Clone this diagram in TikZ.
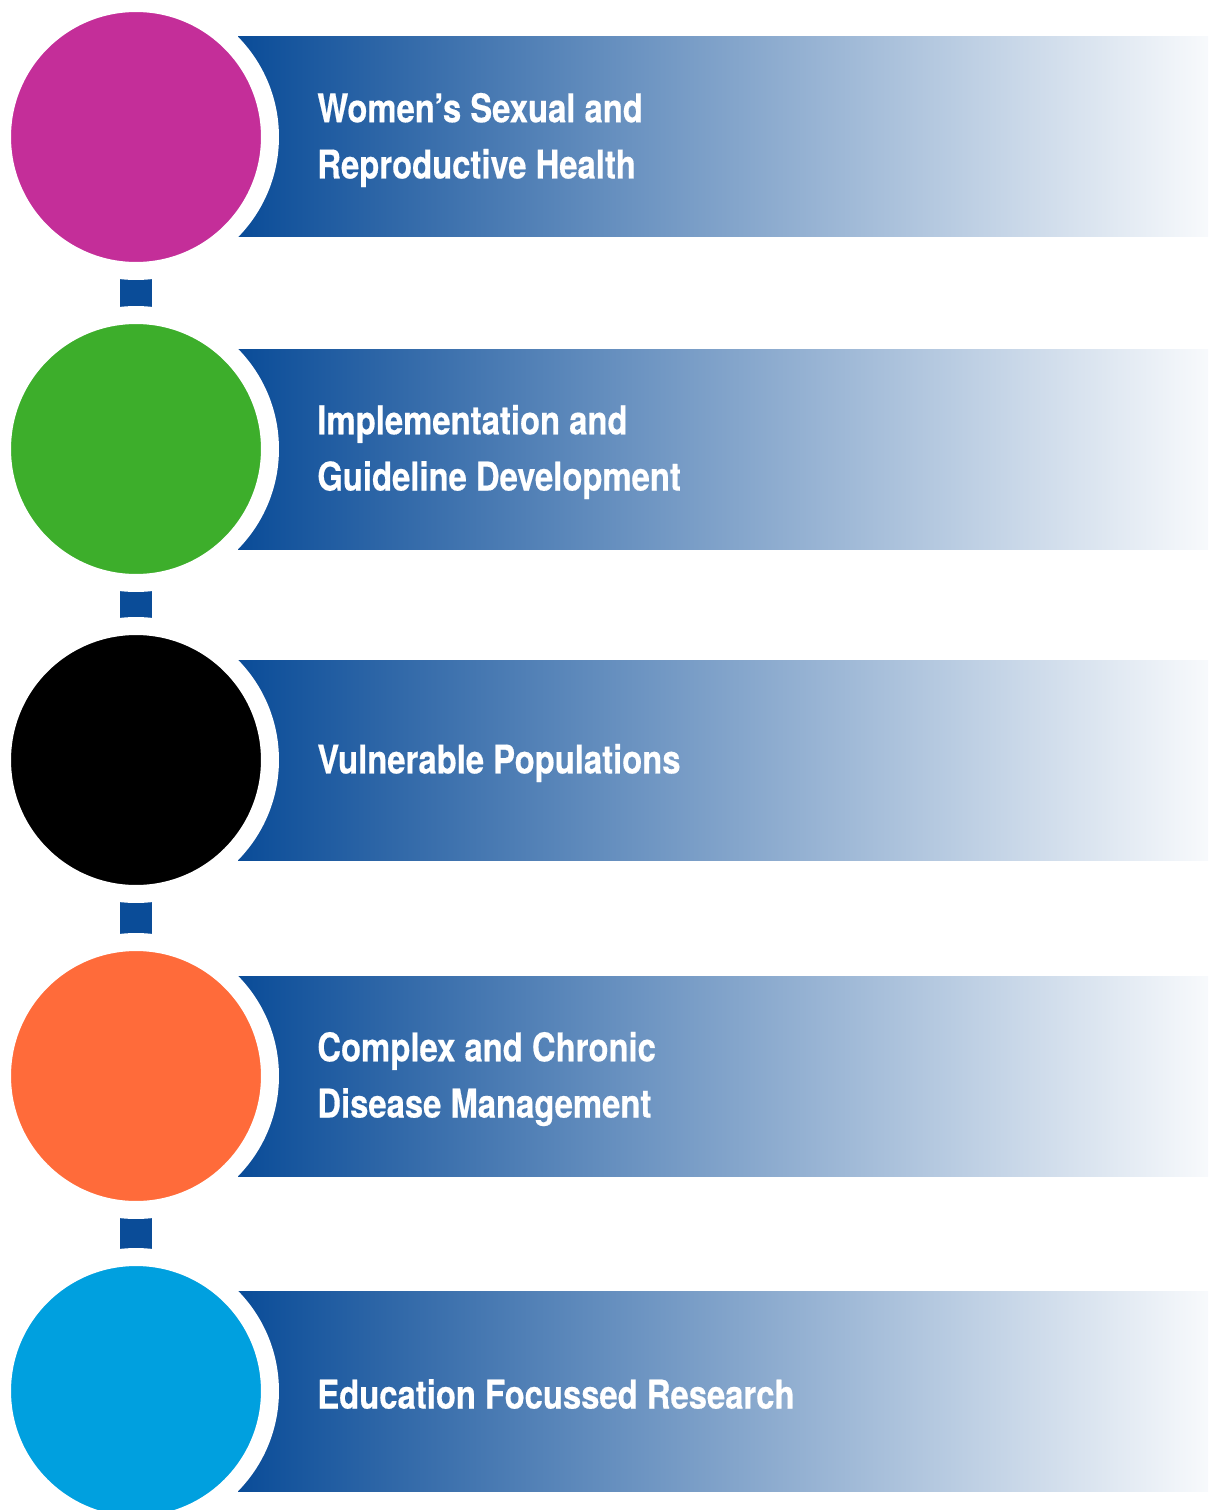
\documentclass[tikz,border=0pt]{standalone}
\usepackage{fontspec}
\setmainfont{TeX Gyre Heros}[FakeStretch=0.83, FakeBold=0.4]
\usetikzlibrary{backgrounds}

\definecolor{navy}{RGB}{10,76,152}
\definecolor{pinkdot}{RGB}{196,46,153}
\definecolor{greendot}{RGB}{61,174,43}
\definecolor{blackdot}{RGB}{0,0,0}
\definecolor{orangedot}{RGB}{255,107,58}
\definecolor{cyandot}{RGB}{0,160,223}

\begin{document}
\begin{tikzpicture}
[x=0.02cm, y=-0.02cm,
dot/.style={circle, draw=white, line width=0.36cm, inner sep=0pt, minimum size=5.36cm},
band/.style={left color=navy, right color=navy!3},
title/.style={anchor=west, text=white, align=left, inner sep=0pt,
  font=\bfseries\fontsize{22.5}{32}\selectfont},
link/.style={draw=navy, line width=0.64cm}]

\useasboundingbox (0,0) rectangle (1208,1510);
\clip (0,0) rectangle (1208,1510);

\foreach \y/\col/\n/\txt in {
  137/pinkdot/1/{Women’s Sexual and\\Reproductive Health},
  449/greendot/2/{Implementation and\\Guideline Development},
  760/blackdot/3/{Vulnerable Populations},
  1076/orangedot/4/{Complex and Chronic\\Disease Management},
  1391/cyandot/5/{Education Focussed Research}} {
  \node[dot, fill=\col] (c\n) at (136,\y) {};
  \node[title] (t\n) at (317,\y+3) {\txt};
  \begin{scope}[on background layer]
    \shade[band] (238,\y-100) rectangle (1208,\y+100);
  \end{scope}
}

\begin{scope}[on background layer]
\foreach \a/\b in {1/2, 2/3, 3/4, 4/5} {
  \draw[link] (c\a.center) -- (c\b.center);
}
\end{scope}
\end{tikzpicture}
\end{document}
